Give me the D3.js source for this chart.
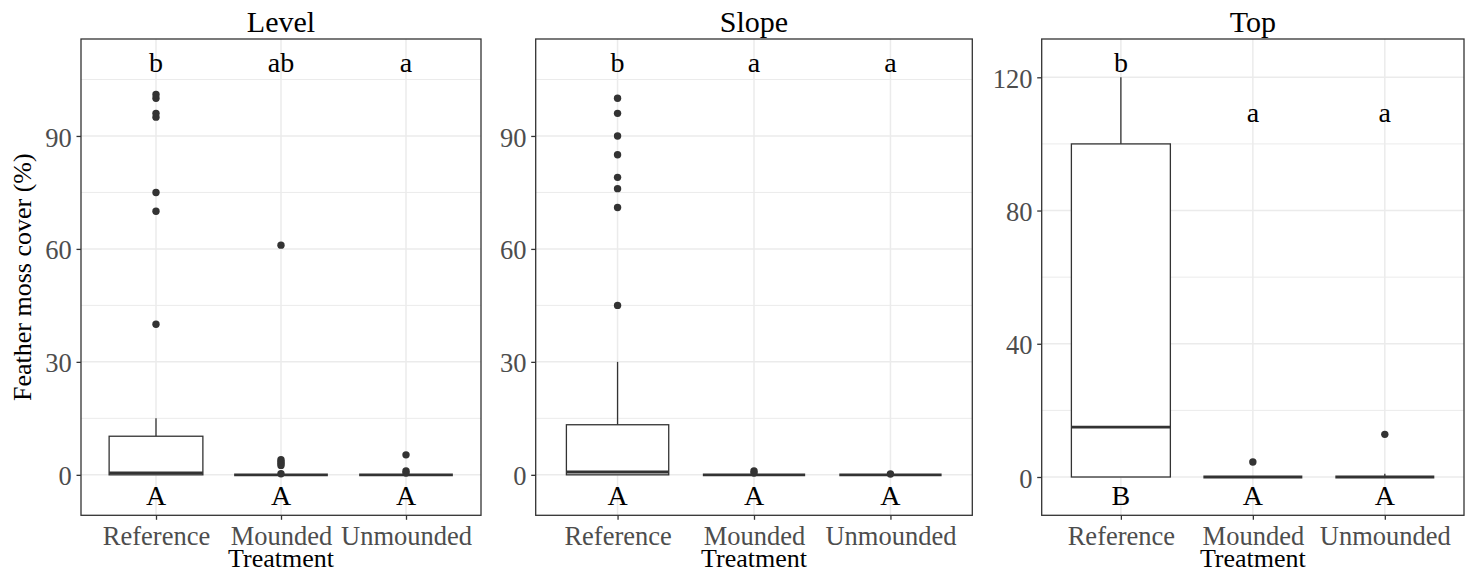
<!DOCTYPE html>
<html>
<head>
<meta charset="utf-8">
<script src="https://cdn.jsdelivr.net/npm/d3@7"></script>
<style>
  html, body { margin: 0; padding: 0; background: #ffffff; }
  svg { display: block; font-family: "Liberation Serif", "Times New Roman", serif; }
</style>
</head>
<body>
<svg id="chart" width="1471" height="573"></svg>
<script>
// Treatment groups shared by every panel
const treatments = ["Reference", "Mounded", "Unmounded"];
const panelTitles = ["Level", "Slope", "Top"];

// Level microsite: box statistics per treatment
const levelWhiskerLow = [0, 0, 0];
const levelQ1 = [0, 0, 0];
const levelMedian = [0.5, 0, 0];
const levelQ3 = [10.25, 0, 0];
const levelWhiskerHigh = [15, 0, 0];
const levelOutliers = [[40, 70, 75, 95, 96, 100, 101], [61, 4, 3.5, 3, 2.5, 0.3], [5.3, 1, 0.5]];
const levelUpperLetters = ["b", "ab", "a"];
const levelUpperAt = [110, 110, 110];
const levelLowerLetters = ["A", "A", "A"];
const levelTicks = [0, 30, 60, 90];

// Slope microsite
const slopeWhiskerLow = [0, 0, 0];
const slopeQ1 = [0, 0, 0];
const slopeMedian = [0.75, 0, 0];
const slopeQ3 = [13.3, 0, 0];
const slopeWhiskerHigh = [30, 0, 0];
const slopeOutliers = [[45, 71, 76, 79, 85, 90, 96, 100], [1, 0.5], [0.2]];
const slopeUpperLetters = ["b", "a", "a"];
const slopeUpperAt = [110, 110, 110];
const slopeLowerLetters = ["A", "A", "A"];
const slopeTicks = [0, 30, 60, 90];

// Top microsite
const topWhiskerLow = [0, 0, 0];
const topQ1 = [0, 0, 0];
const topMedian = [15, 0, 0];
const topQ3 = [100, 0, 0];
const topWhiskerHigh = [120, 0, 1];
const topOutliers = [[], [4.5], [12.8]];
const topUpperLetters = ["b", "a", "a"];
const topUpperAt = [125, 110, 110];
const topLowerLetters = ["B", "A", "A"];
const topTicks = [0, 40, 80, 120];

// Lower letter row sits at the same value in every panel
const lowerLetterAt = -5;

const panels = [
  { title: panelTitles[0], lo: levelWhiskerLow, q1: levelQ1, med: levelMedian, q3: levelQ3, hi: levelWhiskerHigh,
    out: levelOutliers, upper: levelUpperLetters, upperAt: levelUpperAt, lower: levelLowerLetters, ticks: levelTicks },
  { title: panelTitles[1], lo: slopeWhiskerLow, q1: slopeQ1, med: slopeMedian, q3: slopeQ3, hi: slopeWhiskerHigh,
    out: slopeOutliers, upper: slopeUpperLetters, upperAt: slopeUpperAt, lower: slopeLowerLetters, ticks: slopeTicks },
  { title: panelTitles[2], lo: topWhiskerLow, q1: topQ1, med: topMedian, q3: topQ3, hi: topWhiskerHigh,
    out: topOutliers, upper: topUpperLetters, upperAt: topUpperAt, lower: topLowerLetters, ticks: topTicks }
];

// Plot-area frames of the three panels
const frames = [
  { left: 81, right: 481 },
  { left: 535.7, right: 972.3 },
  { left: 1041.7, right: 1464 }
];
const plotTop = 39, plotBottom = 515.3;

const ink = "#333333";
const gridColor = "#ebebeb";
const tickTextColor = "#4d4d4d";

const svg = d3.select("#chart");

panels.forEach((p, i) => {
  const f = frames[i];
  const g = svg.append("g");

  // y range covers data and letter rows, expanded by 5% each side
  const allVals = [].concat(p.lo, p.hi, p.out.flat(), p.upperAt, [lowerLetterAt]);
  const [mn, mx] = d3.extent(allVals);
  const pad = (mx - mn) * 0.05;
  const y = d3.scaleLinear().domain([mn - pad, mx + pad]).range([plotBottom, plotTop]);
  const x = d3.scalePoint().domain(treatments).range([f.left, f.right]).padding(0.6);
  const boxW = x.step() * 0.75;

  // minor gridlines halfway between major ticks
  const step = p.ticks[1] - p.ticks[0];
  const minor = d3.range(p.ticks[0] - step / 2, mx + pad + step, step)
    .filter(v => v >= y.domain()[0] && v <= y.domain()[1]);
  g.selectAll(".minor").data(minor).join("line")
    .attr("x1", f.left).attr("x2", f.right)
    .attr("y1", d => y(d)).attr("y2", d => y(d))
    .attr("stroke", gridColor).attr("stroke-width", 1);
  g.selectAll(".major").data(p.ticks).join("line")
    .attr("x1", f.left).attr("x2", f.right)
    .attr("y1", d => y(d)).attr("y2", d => y(d))
    .attr("stroke", gridColor).attr("stroke-width", 1.5);
  g.selectAll(".vgrid").data(treatments).join("line")
    .attr("x1", d => x(d)).attr("x2", d => x(d))
    .attr("y1", plotTop).attr("y2", plotBottom)
    .attr("stroke", gridColor).attr("stroke-width", 1.5);

  // boxplots
  const boxes = g.selectAll(".box").data(treatments).join("g");
  boxes.append("line")
    .attr("x1", d => x(d)).attr("x2", d => x(d))
    .attr("y1", (d, j) => y(p.q3[j])).attr("y2", (d, j) => y(p.hi[j]))
    .attr("stroke", ink).attr("stroke-width", 1.3);
  boxes.append("line")
    .attr("x1", d => x(d)).attr("x2", d => x(d))
    .attr("y1", (d, j) => y(p.q1[j])).attr("y2", (d, j) => y(p.lo[j]))
    .attr("stroke", ink).attr("stroke-width", 1.3);
  boxes.append("rect")
    .attr("x", d => x(d) - boxW / 2).attr("width", boxW)
    .attr("y", (d, j) => y(p.q3[j]))
    .attr("height", (d, j) => y(p.q1[j]) - y(p.q3[j]))
    .attr("fill", "#ffffff").attr("stroke", ink).attr("stroke-width", 1.3);
  boxes.append("line")
    .attr("x1", d => x(d) - boxW / 2).attr("x2", d => x(d) + boxW / 2)
    .attr("y1", (d, j) => y(p.med[j])).attr("y2", (d, j) => y(p.med[j]))
    .attr("stroke", ink).attr("stroke-width", 2.8);

  // outlying observations
  boxes.each(function (d, j) {
    d3.select(this).selectAll("circle").data(p.out[j]).join("circle")
      .attr("cx", x(d)).attr("cy", v => y(v)).attr("r", 3.7)
      .attr("fill", ink);
  });

  // significance letters
  g.selectAll(".upper").data(treatments).join("text")
    .attr("x", d => x(d)).attr("y", (d, j) => y(p.upperAt[j]))
    .attr("dy", "0.4em").attr("text-anchor", "middle")
    .attr("font-size", 28).attr("fill", "#000")
    .text((d, j) => p.upper[j]);
  g.selectAll(".lower").data(treatments).join("text")
    .attr("x", d => x(d)).attr("y", y(lowerLetterAt))
    .attr("dy", "0.42em").attr("text-anchor", "middle")
    .attr("font-size", 28).attr("fill", "#000")
    .text((d, j) => p.lower[j]);

  // panel border
  g.append("rect")
    .attr("x", f.left).attr("y", plotTop)
    .attr("width", f.right - f.left).attr("height", plotBottom - plotTop)
    .attr("fill", "none").attr("stroke", ink).attr("stroke-width", 1.3);

  // axes
  const yAxis = g.append("g").attr("transform", `translate(${f.left},0)`)
    .call(d3.axisLeft(y).tickValues(p.ticks).tickSize(4.5).tickPadding(4.8).tickFormat(d3.format("d")));
  const xAxis = g.append("g").attr("transform", `translate(0,${plotBottom})`)
    .call(d3.axisBottom(x).tickSize(4.5).tickPadding(6.4));
  [yAxis, xAxis].forEach(a => {
    a.select(".domain").remove();
    a.selectAll(".tick line").attr("stroke", ink).attr("stroke-width", 1.3);
    a.selectAll(".tick text")
      .attr("font-family", "Liberation Serif, Times New Roman, serif")
      .attr("font-size", 26.5).attr("fill", tickTextColor);
  });
  yAxis.selectAll(".tick text").attr("dy", "0.38em");

  // panel title and x-axis title
  const cx = (f.left + f.right) / 2;
  g.append("text").attr("x", cx).attr("y", 31.5)
    .attr("text-anchor", "middle").attr("font-size", 30).attr("fill", "#000")
    .text(p.title);
  g.append("text").attr("x", cx).attr("y", 566.5)
    .attr("text-anchor", "middle").attr("font-size", 26).attr("fill", "#000")
    .text("Treatment");
});

// shared y-axis title
svg.append("text")
  .attr("transform", `translate(31,${(plotTop + plotBottom) / 2}) rotate(-90)`)
  .attr("text-anchor", "middle").attr("font-size", 26).attr("fill", "#000")
  .text("Feather moss cover (%)");
</script>
</body>
</html>
